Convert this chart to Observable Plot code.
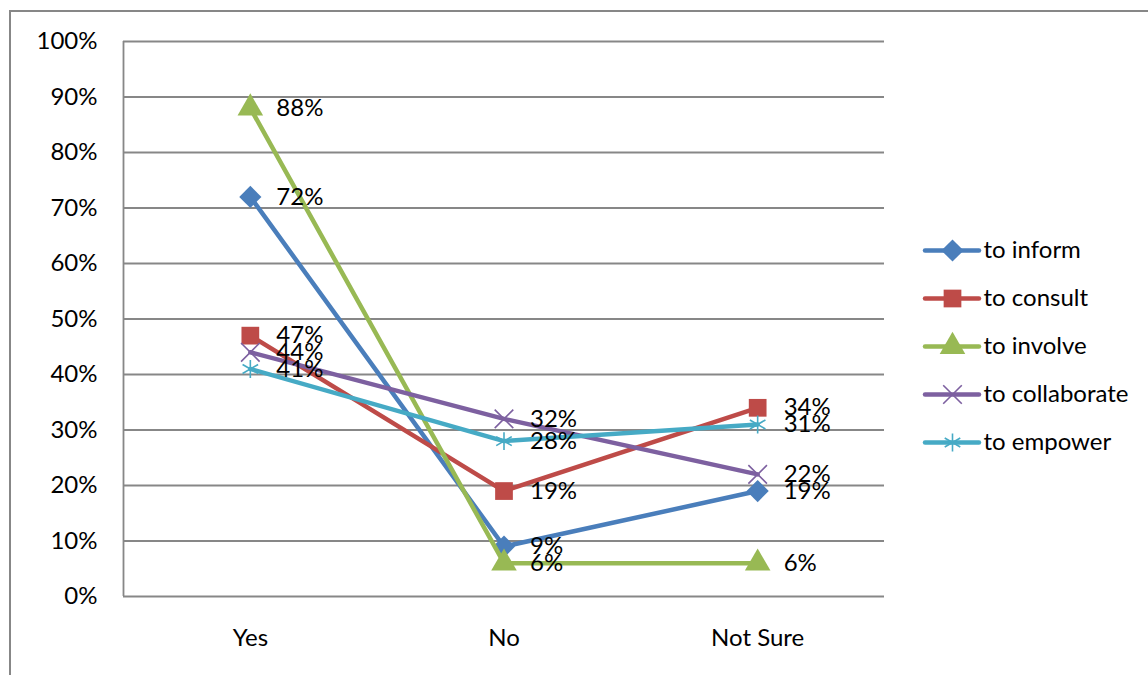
<!DOCTYPE html>
<html>
<head>
<meta charset="utf-8">
<script src="https://cdn.jsdelivr.net/npm/d3@7"></script>
<script src="https://cdn.jsdelivr.net/npm/@observablehq/plot@0.6"></script>
<style>
  html, body { margin: 0; padding: 0; background: #fff; }
  #chart { position: relative; width: 1148px; height: 675px; overflow: hidden; font-family: Lato, "Noto Sans", sans-serif; }
  #frame { position: absolute; left: 9px; top: 10px; width: 1300px; height: 800px;
           border-left: 2px solid #878787; border-top: 2px solid #878787; }
  #main { position: absolute; left: 0; top: 0; }
  #legend { position: absolute; left: 900px; top: 220px; }
</style>
</head>
<body>
<div id="chart">
  <div id="frame"></div>
  <div id="main"></div>
  <div id="legend"></div>
</div>
<script>
// Answer categories along the x axis
const categories = ["Yes", "No", "Not Sure"];

// Series (level of engagement) and their shares per answer
const seriesNames = ["to inform", "to consult", "to involve", "to collaborate", "to empower"];
const toInform      = [0.72, 0.09, 0.19];
const toConsult     = [0.47, 0.19, 0.34];
const toInvolve     = [0.88, 0.06, 0.06];
const toCollaborate = [0.44, 0.32, 0.22];
const toEmpower     = [0.41, 0.28, 0.31];

// Y axis tick values
const yTicks = [0, 0.1, 0.2, 0.3, 0.4, 0.5, 0.6, 0.7, 0.8, 0.9, 1];

// Scale ranges for series colour and marker
const seriesColors  = ["#4a7ebb", "#be4b48", "#98b954", "#7d60a0", "#46aac5"];
const seriesSymbols = ["diamond2", "square", "triangle", "times", "asterisk"];
const filledSymbols = new Set(["diamond2", "square", "triangle"]);
const symbolRadius  = {diamond2: 10, square: 10, triangle: 9.5, times: 8.5, asterisk: 8.5};

const seriesValues = [toInform, toConsult, toInvolve, toCollaborate, toEmpower];
const rows = seriesNames.flatMap((s, i) =>
  categories.map((c, j) => ({series: s, category: c, idx: j, value: seriesValues[i][j], symbol: seriesSymbols[i]}))
);

const pct = d3.format(".0%");
const gridColor = "#878787";
const fontSize = 24;
const fontFamily = "Lato, 'Noto Sans', sans-serif";

const colorScale  = {domain: seriesNames, range: seriesColors};
const symbolScale = {domain: seriesNames, range: seriesSymbols};

// Line and markers for each series, drawn series by series
const seriesMarks = seriesNames.flatMap((s, i) => {
  const data = rows.filter(d => d.series === s);
  const sym = seriesSymbols[i];
  const dot = filledSymbols.has(sym)
    ? Plot.dot(data, {x: "idx", y: "value", symbol: "series", fill: "series", stroke: "none", r: symbolRadius[sym]})
    : Plot.dot(data, {x: "idx", y: "value", symbol: "series", stroke: "series", fill: "none", strokeWidth: 1.6, r: symbolRadius[sym]});
  return [
    Plot.line(data, {x: "idx", y: "value", stroke: "series", strokeWidth: 4.5, strokeLinejoin: "round", strokeLinecap: "round"}),
    dot
  ];
});

const xDomain = [-0.5, categories.length - 0.5];

const chart = Plot.plot({
  width: 1148,
  height: 675,
  marginLeft: 123,
  marginRight: 264,
  marginTop: 41,
  marginBottom: 79,
  style: {fontFamily, fontSize: fontSize + "px", background: "transparent", color: "#000"},
  x: {domain: xDomain, axis: null},
  y: {domain: [0, 1], axis: null},
  color: colorScale,
  symbol: symbolScale,
  marks: [
    Plot.gridY(yTicks, {stroke: gridColor, strokeOpacity: 1, strokeWidth: 1.8}),
    Plot.ruleX([xDomain[0]], {y1: 0, y2: 1, stroke: gridColor, strokeWidth: 1.8}),
    Plot.axisY(yTicks, {tickFormat: pct, tickSize: 0, tickPadding: 26, fontSize, label: null}),
    Plot.axisX(categories.map((c, i) => i), {tickFormat: i => categories[i], tickSize: 0, tickPadding: 32, fontSize, label: null}),
    ...seriesMarks,
    Plot.text(rows, {x: "idx", y: "value", text: d => pct(d.value), dx: 26, textAnchor: "start", fontSize, fill: "#000"})
  ]
});
document.getElementById("main").appendChild(chart);

// Legend: a line segment with the series marker, followed by its name
const legend = Plot.plot({
  width: 248,
  height: 250,
  marginLeft: 25,
  marginRight: 169,
  marginTop: 30,
  marginBottom: 28,
  style: {fontFamily, fontSize: fontSize + "px", background: "transparent", color: "#000"},
  x: {domain: [0, 1], axis: null},
  y: {type: "point", domain: seriesNames, padding: 0, axis: null},
  color: colorScale,
  symbol: symbolScale,
  marks: [
    Plot.ruleY(seriesNames, {y: d => d, x1: 0, x2: 1, stroke: d => d, strokeWidth: 4.5, strokeLinecap: "round"}),
    ...seriesNames.map((s, i) => {
      const sym = seriesSymbols[i];
      return filledSymbols.has(sym)
        ? Plot.dot([s], {x: 0.5, y: d => d, symbol: d => d, fill: d => d, stroke: "none", r: symbolRadius[sym]})
        : Plot.dot([s], {x: 0.5, y: d => d, symbol: d => d, stroke: d => d, fill: "none", strokeWidth: 1.6, r: symbolRadius[sym]});
    }),
    Plot.text(seriesNames, {x: 1, y: d => d, text: d => d, dx: 4, textAnchor: "start", fontSize, fill: "#000"})
  ]
});
document.getElementById("legend").appendChild(legend);
</script>
</body>
</html>
